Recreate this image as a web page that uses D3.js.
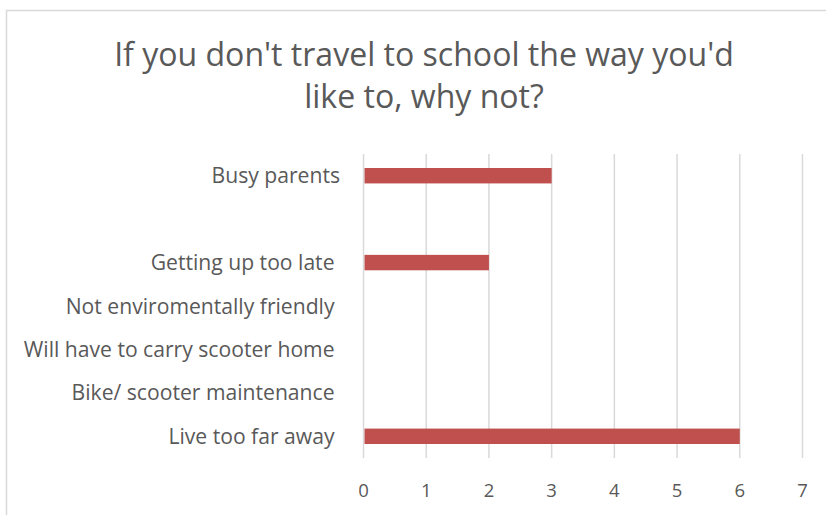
<!DOCTYPE html>
<html><head><meta charset="utf-8">
<script src="https://cdn.jsdelivr.net/npm/d3@7"></script>
<style>body{margin:0;background:#fff}svg{display:block}</style>
</head><body>
<svg id="chart" width="826" height="515"></svg>
<script>
const categories = ["Busy parents", "", "Getting up too late ", "Not enviromentally friendly ", "Will have to carry scooter home ", "Bike/ scooter maintenance ", "Live too far away "];
const values = [3, 0, 2, 0, 0, 0, 6];
const xTicks = [0, 1, 2, 3, 4, 5, 6, 7];
const titleLines = ["If you don't travel to school the way you'd", "like to, why not?"];

const svg = d3.select("#chart");
const font = "'Open Sans', sans-serif";
const textColor = "#595959";

// outer border
svg.append("rect").attr("x", 6.5).attr("y", 10.5).attr("width", 840).attr("height", 540)
  .attr("fill", "#fff").attr("stroke", "#d9d9d9").attr("stroke-width", 1.5);

// helper: fit font size so a reference text spans a given width
function fitSize(text, target, base) {
  const t = svg.append("text").attr("font-family", font).attr("font-size", base).style("white-space", "pre").text(text);
  const w = t.node().getComputedTextLength();
  t.remove();
  return base * target / w;
}
const titleSize = fitSize(titleLines[0], 620, 28);
const labelSize = fitSize("Will have to carry scooter home", 311, 16);

// title
svg.append("g").selectAll("text").data(titleLines).join("text")
  .attr("x", 424).attr("y", (d, i) => 66 + i * 42)
  .attr("text-anchor", "middle").attr("font-family", font).attr("font-size", titleSize)
  .attr("fill", textColor).text(d => d);

const plot = {left: 363.5, right: 802.5, top: 154, bottom: 458};
const x = d3.scaleLinear().domain([0, 7]).range([plot.left, plot.right]);
const y = d3.scaleBand().domain(d3.range(categories.length)).range([plot.top, plot.bottom]).paddingInner(0.645).paddingOuter(0.3225);

// gridlines
svg.append("g").selectAll("line").data(xTicks).join("line")
  .attr("x1", d => x(d)).attr("x2", d => x(d))
  .attr("y1", plot.top).attr("y2", plot.bottom)
  .attr("stroke", "#d9d9d9").attr("stroke-width", 1.5);

// bars
svg.append("g").selectAll("rect").data(values).join("rect")
  .attr("x", x(0) + 1).attr("y", (d, i) => y(i))
  .attr("width", d => Math.max(0, x(d) - x(0) - 1)).attr("height", y.bandwidth())
  .attr("fill", "#c0504d");

// category labels
svg.append("g").selectAll("text").data(categories).join("text")
  .attr("x", 340).attr("y", (d, i) => y(i) + y.bandwidth() / 2)
  .attr("dy", "0.36em").attr("text-anchor", "end")
  .style("white-space", "pre")
  .attr("font-family", font).attr("font-size", labelSize).attr("fill", textColor)
  .text(d => d);

// x tick labels
svg.append("g").selectAll("text").data(xTicks).join("text")
  .attr("x", d => x(d)).attr("y", 497)
  .attr("text-anchor", "middle").attr("font-family", font).attr("font-size", 18.5)
  .attr("fill", textColor).text(d => d);
</script>
</body></html>
